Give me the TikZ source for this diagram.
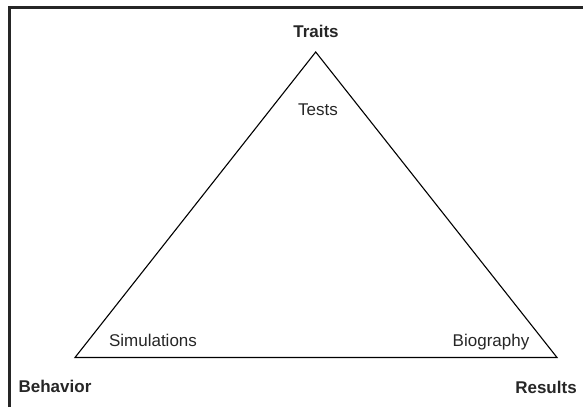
\documentclass[tikz,border=0pt]{standalone}
\usepackage{fontspec}
\setmainfont{Liberation Sans}
\begin{document}
\begin{tikzpicture}[x=1pt,y=-1pt,
  lbl/.style={inner sep=0pt,anchor=base,font=\fontsize{17}{20}\selectfont,text=black!85},
  blbl/.style={lbl,font=\fontsize{17}{20}\selectfont\bfseries},
  edge/.style={draw=black,line width=1.1pt,line join=miter}]
\useasboundingbox (0,0) rectangle (583,407);
\draw[line width=2.6pt,black!85] (9.3,407) -- (9.3,7.3) -- (583,7.3);
\coordinate (apex) at (315.7,52);
\coordinate (bl) at (75,357.5);
\coordinate (br) at (557,357.5);
\draw[edge] (apex) -- (br) -- (bl) -- cycle;
\node[blbl] (traits) at (316,37) {Traits};
\node[lbl] (tests) at (318,115) {Tests};
\node[lbl] (sim) at (153,346) {Simulations};
\node[lbl] (bio) at (491,346) {Biography};
\node[blbl] (beh) at (55,392.7) {Behavior};
\node[blbl] (res) at (546,393) {Results};
\end{tikzpicture}
\end{document}
